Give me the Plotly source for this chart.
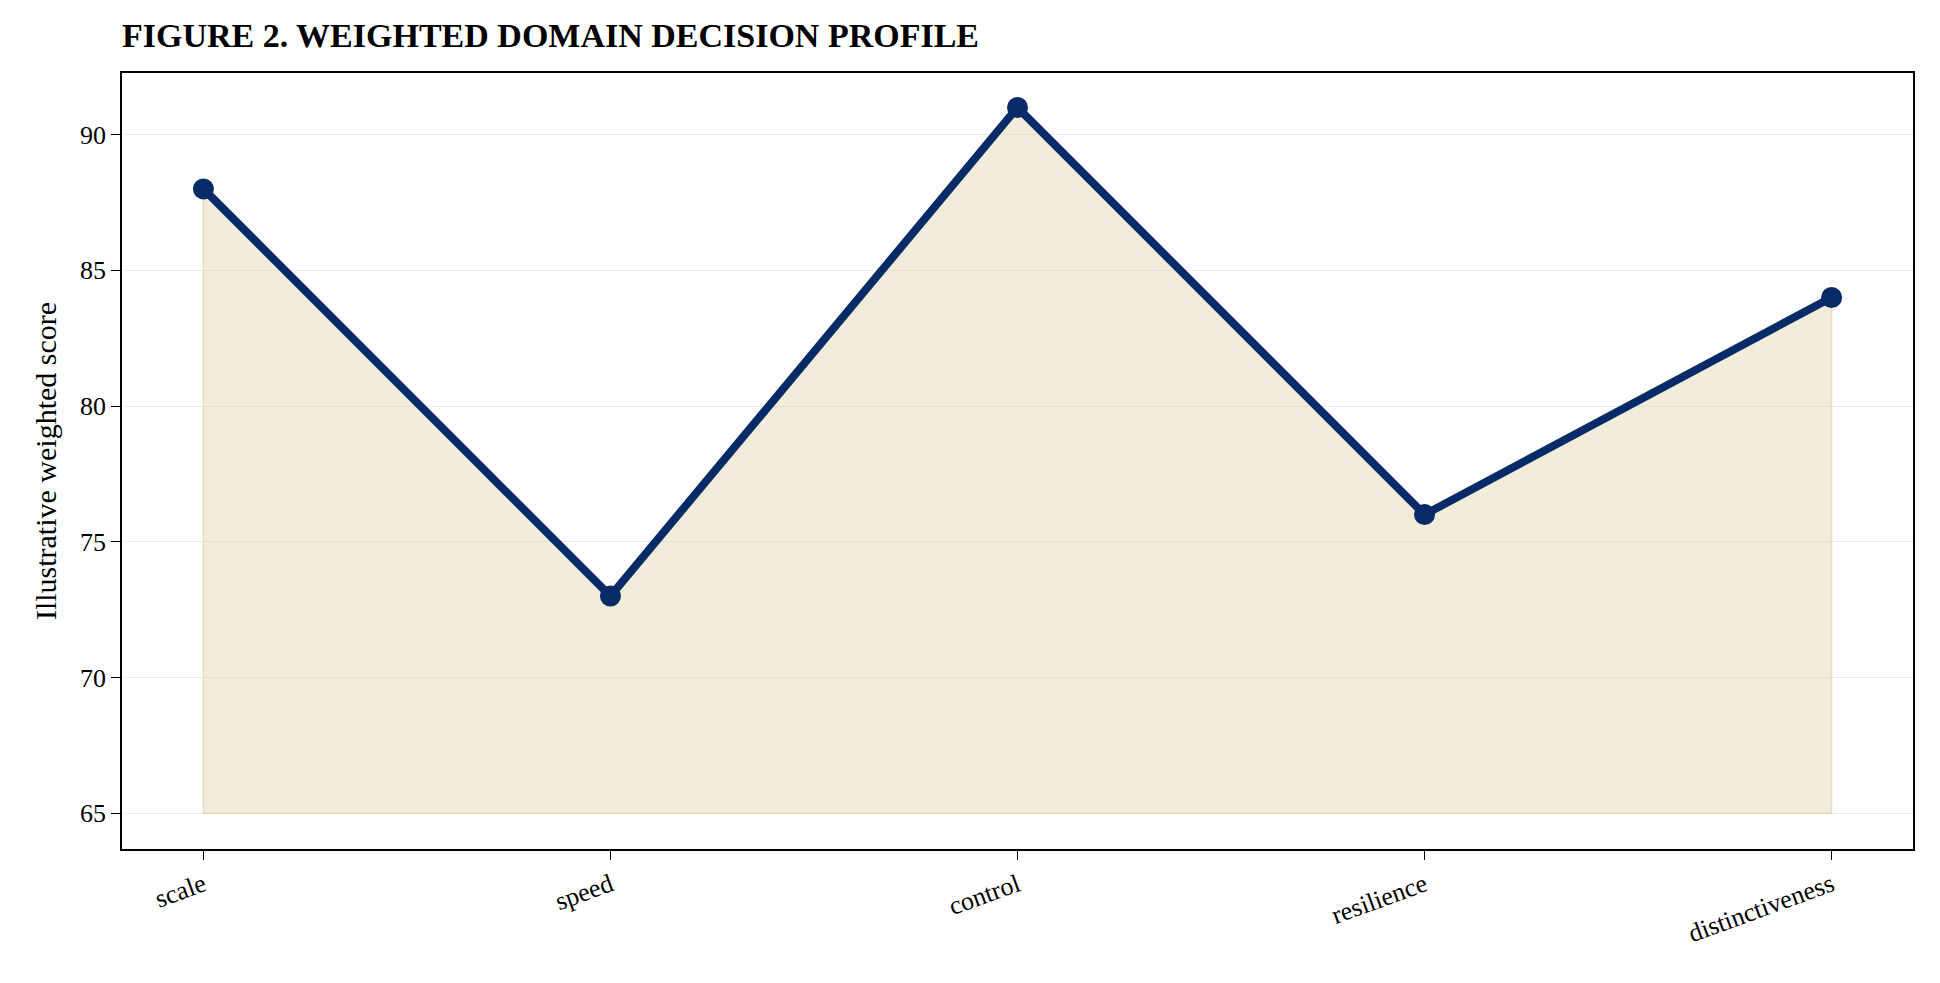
import plotly.graph_objects as go

domains = ["scale", "speed", "control", "resilience", "distinctiveness"]
scores = [88, 73, 91, 76, 84]
baseline = [65, 65, 65, 65, 65]
yticks = [65, 70, 75, 80, 85, 90]

FONT = "Liberation Serif, Times New Roman, serif"

fig = go.Figure()
# baseline for area fill
fig.add_trace(go.Scatter(x=domains, y=baseline, mode="lines",
                         line=dict(color="rgba(215,190,130,0.45)", width=1.5),
                         showlegend=False, hoverinfo="skip"))
fig.add_trace(go.Scatter(x=domains, y=scores, mode="lines", fill="tonexty",
                         fillcolor="rgba(222,205,160,0.38)",
                         line=dict(color="rgba(215,190,130,0.45)", width=1.5),
                         showlegend=False, hoverinfo="skip"))
# edges of fill at the ends
for i in [0, len(domains) - 1]:
    fig.add_trace(go.Scatter(x=[domains[i], domains[i]], y=[baseline[i], scores[i]],
                             mode="lines", line=dict(color="rgba(215,190,130,0.45)", width=1.5),
                             showlegend=False, hoverinfo="skip"))
fig.add_trace(go.Scatter(x=domains, y=scores, mode="lines+markers",
                         line=dict(color="#062B66", width=8),
                         marker=dict(color="#062B66", size=21),
                         showlegend=False))

fig.update_layout(
    width=1940, height=983,
    paper_bgcolor="white", plot_bgcolor="white",
    margin=dict(l=114, r=35, t=65, b=142),
    font=dict(family=FONT, size=26, color="black"),
    title=dict(text="<b>FIGURE 2. WEIGHTED DOMAIN DECISION PROFILE</b>",
               x=0, xref="paper", xanchor="left", y=0.985, yanchor="top",
               font=dict(size=34, family=FONT)),
)
fig.update_xaxes(range=[-0.2, 4.2], showline=True, mirror=True, linecolor="black",
                 linewidth=1.5, ticks="outside", ticklen=9, tickcolor="black",
                 tickangle=-20, showgrid=False, tickfont=dict(size=26))
fig.update_yaxes(range=[63.68, 92.27], tickvals=yticks, showline=True, mirror=True,
                 linecolor="black", linewidth=1.5, ticks="outside", ticklen=9,
                 tickcolor="black", gridcolor="rgba(0,0,0,0.08)", zeroline=False,
                 title=dict(text="Illustrative weighted score", font=dict(size=30)),
                 tickfont=dict(size=26))

fig.write_html("out.html")
